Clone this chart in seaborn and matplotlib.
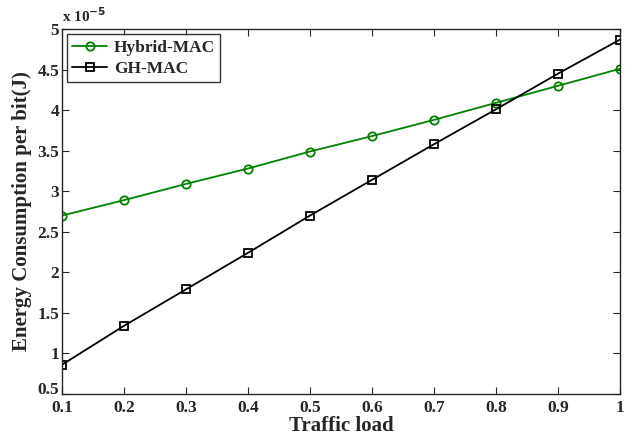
import matplotlib
matplotlib.use("Agg")
import matplotlib.pyplot as plt
import matplotlib.transforms as mtransforms
import seaborn as sns
import pandas as pd

# traffic load and energy per bit (x 1e-5 J)
load = [0.1, 0.2, 0.3, 0.4, 0.5, 0.6, 0.7, 0.8, 0.9, 1.0]
hybrid_mac = [2.70, 2.89, 3.09, 3.28, 3.49, 3.68, 3.88, 4.09, 4.30, 4.51]
gh_mac = [0.86, 1.34, 1.79, 2.24, 2.70, 3.14, 3.58, 4.01, 4.45, 4.87]

sns.set_style("ticks")
plt.rcParams['font.family'] = ['Liberation Serif', 'DejaVu Serif']
plt.rcParams['font.weight'] = 'bold'

df = pd.concat([
    pd.DataFrame({"load": load, "energy": hybrid_mac, "protocol": "Hybrid-MAC"}),
    pd.DataFrame({"load": load, "energy": gh_mac, "protocol": "GH-MAC"}),
])

fig = plt.figure(figsize=(6.25, 4.4), dpi=100)
ax = fig.add_axes([0.099, 0.1045, 0.893, 0.8295])

sns.lineplot(data=df, x="load", y="energy", hue="protocol", style="protocol",
             palette={"Hybrid-MAC": "#008000", "GH-MAC": "black"},
             markers={"Hybrid-MAC": "o", "GH-MAC": "s"}, dashes=False,
             markerfacecolor="none", markeredgewidth=1.3, markersize=6,
             linewidth=1.3, ax=ax)
for line in ax.lines:
    line.set_markeredgecolor(line.get_color())

ax.set_xlim(0.1, 1.0)
ax.set_ylim(0.5, 5.0)
ax.set_xticks(load)
ax.set_xticklabels(["%g" % v for v in load])
yt = [0.5, 1, 1.5, 2, 2.5, 3, 3.5, 4, 4.5, 5]
ax.set_yticks(yt)
ax.set_yticklabels(["%g" % v for v in yt])
ax.tick_params(direction="in", top=True, right=True, labelsize=12.5, length=5)
ax.tick_params(axis="x", pad=4)
ax.tick_params(axis="y", pad=2)
for sp in ax.spines.values():
    sp.set_visible(True)
    sp.set_linewidth(1.0)

# lift the corner "0.5" label a little, like the original
first = ax.get_yticklabels()[0]
first.set_transform(first.get_transform() +
                    mtransforms.ScaledTranslation(0, 4 / 72, fig.dpi_scale_trans))

ax.set_xlabel("Traffic load", fontsize=15, fontweight="bold", labelpad=0)
ax.set_ylabel("Energy Consumption per bit(J)", fontsize=15, fontweight="bold", labelpad=4)
ax.text(0.0, 1.012, r"x 10$^{\mathbf{-5}}$", transform=ax.transAxes, fontsize=11,
        fontweight="bold", ha="left", va="bottom")

leg = ax.legend(loc="upper left", fontsize=12.5, frameon=True, fancybox=False,
                borderaxespad=0.3, handlelength=2.0, handletextpad=0.4,
                borderpad=0.3, labelspacing=0.3)
leg.get_frame().set_edgecolor("black")
leg.get_frame().set_linewidth(1.0)
for line in leg.get_lines():
    line.set_markerfacecolor("none")
    line.set_markeredgecolor(line.get_color())
    line.set_linewidth(1.3)
for t in leg.get_texts():
    t.set_fontweight("bold")

fig.savefig("out.png", dpi=100)
